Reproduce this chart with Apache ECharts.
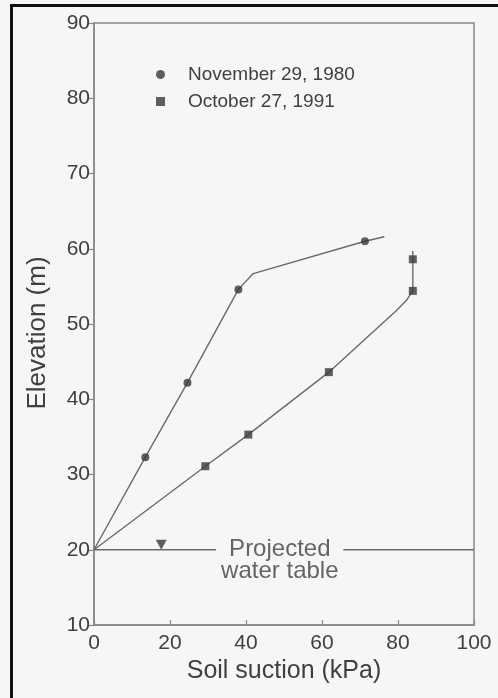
<!DOCTYPE html>
<html>
<head>
<meta charset="utf-8">
<script src="https://cdn.jsdelivr.net/npm/echarts@6/dist/echarts.min.js"></script>
<style>
  html, body { margin: 0; padding: 0; background: #f6f6f4; }
  #chart { width: 498px; height: 698px; }
</style>
</head>
<body>
<div id="chart"></div>
<script>
// Soil suction profiles against elevation, two survey dates.

const xTicks = [0, 20, 40, 60, 80, 100];          // soil suction, kPa
const yTicks = [10, 20, 30, 40, 50, 60, 70, 80, 90]; // elevation, m

const seriesNames = ['November 29, 1980', 'October 27, 1991'];

// Measured points, 29 Nov 1980
const nov1980Suction   = [13.5, 24.6, 38.0, 71.3];
const nov1980Elevation = [32.3, 42.2, 54.6, 61.0];
// Drawn profile line, 29 Nov 1980 (starts at the water table)
const nov1980LineSuction   = [0, 13.5, 24.6, 38.0, 41.9, 71.3, 76.4];
const nov1980LineElevation = [20, 32.3, 42.2, 54.6, 56.7, 61.0, 61.6];

// Measured points, 27 Oct 1991
const oct1991Suction   = [29.3, 40.6, 61.8, 83.9, 83.9];
const oct1991Elevation = [31.1, 35.3, 43.6, 54.4, 58.6];
// Drawn profile line, 27 Oct 1991
const oct1991LineSuction   = [0, 29.3, 40.6, 61.8, 79.6, 82.3, 83.9, 83.9, 83.9];
const oct1991LineElevation = [20, 31.1, 35.3, 43.6, 51.8, 53.2, 54.4, 58.6, 59.7];

// Projected water table
const waterTableElevation = 20;
const waterTableSymbolSuction = 17.7;
const waterTableGap = [32.1, 65.6];          // break in the line for the label
const waterTableLabel = 'Projected\nwater table';
const waterTableLabelAt = [48.9, 18.6];

const zip = (xs, ys) => xs.map((x, i) => [x, ys[i]]);

const textColor = '#404040';
const lineColor = '#6a6a6a';
const markColor = '#383838';
const axisColor = '#888888';
const font = '"Liberation Sans", Arial, Helvetica, sans-serif';

const chart = echarts.init(document.getElementById('chart'));

chart.setOption({
  backgroundColor: '#f6f6f4',
  animation: false,
  textStyle: { fontFamily: font },
  graphic: [
    // heavy frame rules along the left and top edges
    { type: 'rect', shape: { x: 10, y: 4, width: 3, height: 694 }, style: { fill: '#111' } },
    { type: 'rect', shape: { x: 10, y: 4, width: 488, height: 3 }, style: { fill: '#111' } }
  ],
  grid: {
    left: 94, right: 24, top: 23, bottom: 73,
    show: true, borderColor: axisColor, borderWidth: 1.5,
    backgroundColor: 'transparent'
  },
  legend: {
    orient: 'vertical',
    left: 151, top: 60,
    itemWidth: 9, itemHeight: 9, itemGap: 8,
    data: [
      { name: seriesNames[0], icon: 'circle' },
      { name: seriesNames[1], icon: 'rect' }
    ],
    textStyle: { fontSize: 19, color: textColor, fontFamily: font, padding: [0, 0, 0, 18] }
  },
  xAxis: {
    type: 'value',
    min: xTicks[0], max: xTicks[xTicks.length - 1], interval: xTicks[1] - xTicks[0],
    name: 'Soil suction (kPa)', nameLocation: 'middle', nameGap: 29,
    nameTextStyle: { fontSize: 25, color: textColor, fontFamily: font },
    axisLine: { lineStyle: { color: axisColor, width: 1.5 } },
    axisTick: { inside: true, length: 5, lineStyle: { color: axisColor, width: 1.2 } },
    axisLabel: { fontSize: 21, color: textColor, margin: 8, fontFamily: font },
    splitLine: { show: false }
  },
  yAxis: {
    type: 'value',
    min: yTicks[0], max: yTicks[yTicks.length - 1], interval: yTicks[1] - yTicks[0],
    name: 'Elevation (m)', nameLocation: 'middle', nameGap: 43,
    nameTextStyle: { fontSize: 26, color: textColor, fontFamily: font, padding: [0, 18, 0, 0] },
    axisLine: { lineStyle: { color: axisColor, width: 1.5 } },
    axisTick: { length: 5, lineStyle: { color: axisColor, width: 1.2 } },
    axisLabel: { fontSize: 21, color: textColor, margin: 4, fontFamily: font },
    splitLine: { show: false }
  },
  series: [
    {
      name: seriesNames[0], type: 'scatter', symbol: 'circle', symbolSize: 8,
      itemStyle: { color: markColor }, z: 5,
      data: zip(nov1980Suction, nov1980Elevation)
    },
    {
      name: seriesNames[1], type: 'scatter', symbol: 'rect', symbolSize: 8,
      itemStyle: { color: markColor }, z: 5,
      data: zip(oct1991Suction, oct1991Elevation)
    },
    {
      name: 'line-1980', type: 'line', showSymbol: false, silent: true,
      lineStyle: { color: lineColor, width: 1.4 },
      data: zip(nov1980LineSuction, nov1980LineElevation)
    },
    {
      name: 'line-1991', type: 'line', showSymbol: false, silent: true,
      lineStyle: { color: lineColor, width: 1.4 },
      data: zip(oct1991LineSuction, oct1991LineElevation)
    },
    {
      name: 'water-table-left', type: 'line', showSymbol: false, silent: true,
      lineStyle: { color: lineColor, width: 1.4 },
      data: [[xTicks[0], waterTableElevation], [waterTableGap[0], waterTableElevation]]
    },
    {
      name: 'water-table-right', type: 'line', showSymbol: false, silent: true,
      lineStyle: { color: lineColor, width: 1.4 },
      data: [[waterTableGap[1], waterTableElevation], [xTicks[xTicks.length - 1], waterTableElevation]]
    },
    {
      name: 'water-table-symbol', type: 'scatter', silent: true,
      symbol: 'triangle', symbolRotate: 180, symbolSize: [11, 10], symbolOffset: [0, -5],
      itemStyle: { color: markColor },
      data: [[waterTableSymbolSuction, waterTableElevation]]
    },
    {
      name: 'water-table-label', type: 'scatter', silent: true,
      symbolSize: 1, itemStyle: { color: 'rgba(0,0,0,0)' },
      label: {
        show: true, position: 'inside', formatter: waterTableLabel,
        fontSize: 24, lineHeight: 22, color: textColor, fontFamily: font, align: 'center'
      },
      data: [waterTableLabelAt]
    }
  ]
});
</script>
</body>
</html>
